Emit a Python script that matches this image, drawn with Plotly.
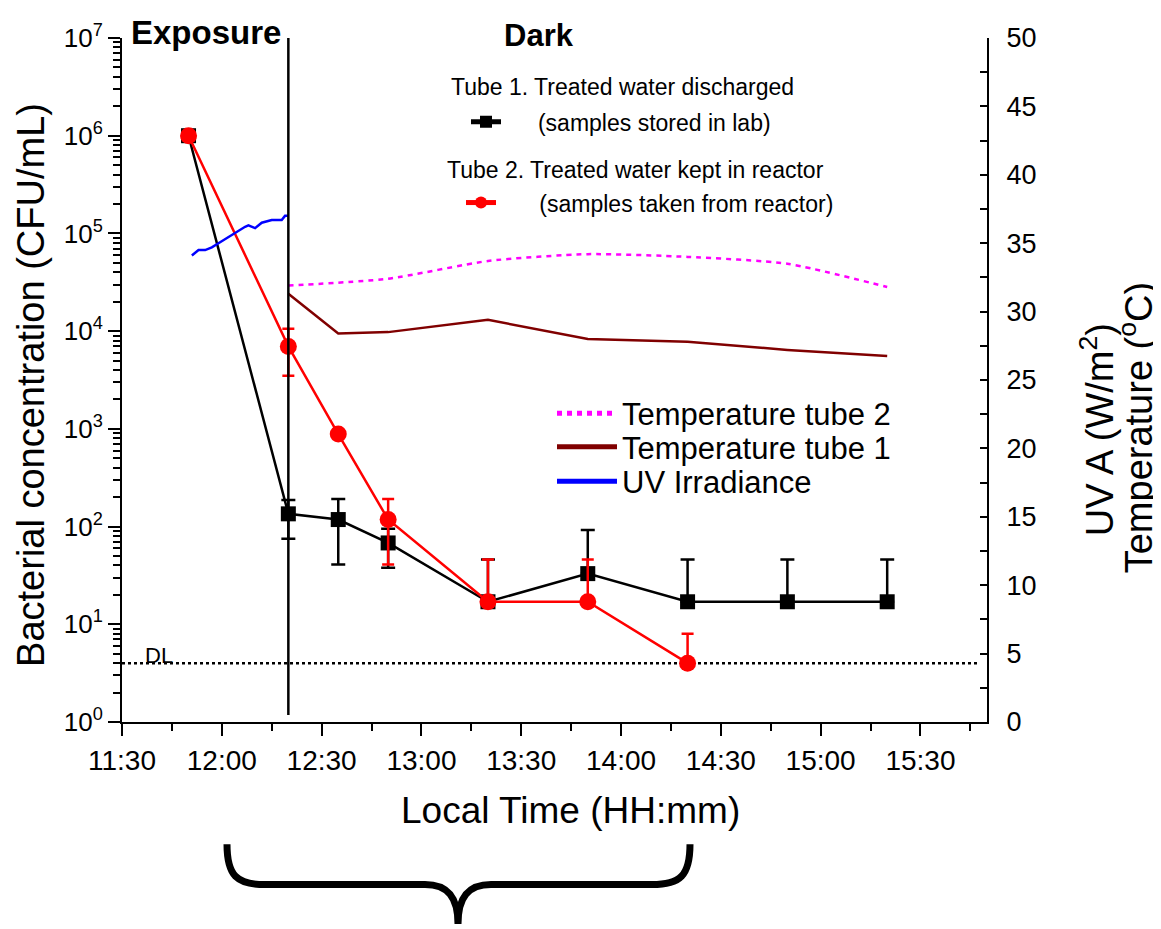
import plotly.graph_objects as go

# ---------------- data ----------------
DAY = "2014-06-10 "
sample_times = ["11:50", "12:20", "12:35", "12:50", "13:20", "13:50", "14:20", "14:50", "15:20"]
tube1_cfu = [1.0e6, 135, 118, 68, 17, 33, 17, 17, 17]
tube1_err_plus = [0, 52, 74, 27, 29, 59, 29, 29, 29]
tube1_err_minus = [0, 60, 77, 30, 0, 0, 0, 0, 0]

tube2_times = ["11:50", "12:20", "12:35", "12:50", "13:20", "13:50", "14:20"]
tube2_cfu = [1.0e6, 6980, 885, 118, 17, 17, 4.0]
tube2_err_plus = [0, 3620, 0, 74, 29, 29, 4.0]
tube2_err_minus = [0, 3480, 0, 77, 0, 0, 0]

temp1_times = ["12:20", "12:35", "12:50", "13:20", "13:50", "14:20", "14:50", "15:20"]
temp_tube1 = [31.3, 28.4, 28.5, 29.4, 28.0, 27.8, 27.2, 26.75]
temp2_times = ["12:20", "12:50", "13:20", "13:50", "14:20", "14:50", "15:20"]
temp_tube2 = [31.9, 32.4, 33.7, 34.2, 34.0, 33.5, 31.8]

uv_times = ["11:51", "11:53", "11:55", "11:57", "11:59", "12:01", "12:04", "12:07",
            "12:08", "12:10", "12:12", "12:15", "12:18", "12:19", "12:20"]
uv_values = [34.1, 34.5, 34.5, 34.7, 35.0, 35.3, 35.8, 36.2, 36.3, 36.1, 36.5, 36.7, 36.7, 37.0, 37.0]

detection_limit = 4.0
dl_span = ["11:30", "15:47"]
dark_start = "12:20"
x_range = ["11:30", "15:50"]
y_exponents = list(range(0, 8))
right_range = [0, 50]

# ---------------- helpers ----------------
FONT = "Arial, Liberation Sans, sans-serif"
OFF = 8                       # page body margin
PL, PR, PT, PB = 122, 987, 28, 722   # plot area in page pixels
W, H = 1161 - OFF, 929 - OFF


def t(s):
    return DAY + s


def ts(lst):
    return [t(s) for s in lst]


def px(xp):
    return (xp - PL) / (PR - PL)


def py(yp):
    return (PB - yp) / (PB - PT)


NB = "\u00a0"

fig = go.Figure()

# right-axis series
fig.add_trace(go.Scatter(
    x=ts(temp2_times), y=temp_tube2, yaxis="y2", mode="lines",
    line=dict(color="#FF00FF", width=2.5, dash="5px,5px", shape="spline", smoothing=0.6),
    name="Temperature tube 2", legend="legend3"))
fig.add_trace(go.Scatter(
    x=ts(temp1_times), y=temp_tube1, yaxis="y2", mode="lines",
    line=dict(color="#800000", width=2.5),
    name="Temperature tube 1", legend="legend4"))
fig.add_trace(go.Scatter(
    x=ts(uv_times), y=uv_values, yaxis="y2", mode="lines",
    line=dict(color="#0000FF", width=2.5),
    name="UV Irradiance", legend="legend5"))

# detection limit
fig.add_trace(go.Scatter(
    x=ts(dl_span), y=[detection_limit, detection_limit], mode="lines",
    line=dict(color="black", width=2.5, dash="dot"), showlegend=False, hoverinfo="skip"))

# bacterial series
fig.add_trace(go.Scatter(
    x=ts(sample_times), y=tube1_cfu, mode="lines+markers",
    line=dict(color="black", width=2.5),
    marker=dict(symbol="square", size=15, color="black"),
    error_y=dict(type="data", symmetric=False, array=tube1_err_plus, arrayminus=tube1_err_minus,
                 color="black", thickness=2.5, width=7),
    name=NB * 5 + "(samples stored in lab)", legend="legend"))
fig.add_trace(go.Scatter(
    x=ts(tube2_times), y=tube2_cfu, mode="lines+markers",
    line=dict(color="#FF0000", width=2.5),
    marker=dict(symbol="circle", size=17, color="#FF0000"),
    error_y=dict(type="data", symmetric=False, array=tube2_err_plus, arrayminus=tube2_err_minus,
                 color="#FF0000", thickness=2.5, width=6),
    name=NB * 6 + "(samples taken from reactor)", legend="legend2"))

# vertical exposure/dark separator
fig.add_shape(type="line", xref="x", yref="paper", x0=t(dark_start), x1=t(dark_start),
              y0=py(715), y1=1.0, line=dict(color="black", width=2.5))


# curly brace under x-axis title
def P(xp, yp):
    return f"{px(xp):.5f},{py(yp):.5f}"


brace = (f"M {P(227,846)} C {P(227,878)} {P(237,887)} {P(265,887)} L {P(425,887)} "
         f"C {P(448,887)} {P(458,900)} {P(458,927)} C {P(458,900)} {P(468,887)} {P(491,887)} "
         f"L {P(652,887)} C {P(680,887)} {P(690,878)} {P(690,846)}")
fig.add_shape(type="path", xref="paper", yref="paper", path=brace,
              line=dict(color="black", width=7))

annotations = [
    dict(text="<b>Exposure</b>", x=px(206), y=py(22), font=dict(size=33)),
    dict(text="<b>Dark</b>", x=px(539), y=py(25), font=dict(size=31)),
    dict(text="Tube 1. Treated water discharged", x=px(449), y=py(78), xanchor="left",
         font=dict(size=23)),
    dict(text="Tube 2. Treated water kept in reactor", x=px(445), y=py(162), xanchor="left",
         font=dict(size=23)),
    dict(text="DL", x=px(159), y=py(655), font=dict(size=22)),
    dict(text="Bacterial concentration (CFU/mL)", x=px(31), y=py(380), textangle=-90,
         font=dict(size=38)),
    dict(text="UV A (W/m<sup>2</sup>)", x=px(1097), y=py(426), textangle=-90,
         font=dict(size=38)),
    dict(text="Temperature (<sup>o</sup>C)", x=px(1136), y=py(424), textangle=-90,
         font=dict(size=38)),
    dict(text="Local Time (HH:mm)", x=px(570), y=py(812), font=dict(size=37)),
]
for a in annotations:
    a.setdefault("xanchor", "center")
    a.setdefault("yanchor", "middle")
    a.update(xref="paper", yref="paper", showarrow=False)
    a["font"].update(family=FONT, color="black")

minor_log = [k * 10 ** e for e in range(0, 7) for k in range(2, 10)]


def leg(xp, yp, size, iw=30):
    return dict(x=px(xp), y=py(yp), xanchor="left", yanchor="middle",
                font=dict(family=FONT, size=size, color="black"),
                bgcolor="rgba(0,0,0,0)", borderwidth=0, itemsizing="constant",
                itemwidth=iw)


fig.update_layout(
    width=W, height=H,
    margin=dict(l=PL - OFF, r=W - (PR - OFF), t=PT - OFF, b=H - (PB - OFF)),
    paper_bgcolor="white", plot_bgcolor="white",
    font=dict(family=FONT, color="black"),
    annotations=annotations,
    legend=leg(466, 113, 23),
    legend2=leg(461, 195, 23),
    legend3=leg(552, 409, 31, 60),
    legend4=leg(552, 443, 31, 60),
    legend5=leg(552, 478, 31, 60),
    xaxis=dict(
        type="date", range=ts(x_range), tickformat="%H:%M",
        tick0=t("11:30"), dtick=1800000,
        showline=True, linecolor="black", linewidth=2, mirror=False,
        ticks="outside", ticklen=12, tickwidth=2, tickcolor="black",
        minor=dict(dtick=900000, ticks="outside", ticklen=7, tickwidth=2, tickcolor="black"),
        tickfont=dict(family=FONT, size=28, color="black"),
        showgrid=False, zeroline=False,
    ),
    yaxis=dict(
        type="log", range=[0, 7],
        tickmode="array", tickvals=[10 ** e for e in y_exponents],
        ticktext=[f"10<sup>{e}</sup>" for e in y_exponents],
        showline=True, linecolor="black", linewidth=2,
        ticks="outside", ticklen=12, tickwidth=2, tickcolor="black",
        minor=dict(tickmode="array", tickvals=minor_log, ticks="outside", ticklen=7,
                   tickwidth=2, tickcolor="black"),
        tickfont=dict(family=FONT, size=26, color="black"),
        showgrid=False, zeroline=False,
    ),
    yaxis2=dict(
        overlaying="y", side="right", range=right_range,
        tickmode="linear", tick0=0, dtick=5,
        showline=True, linecolor="black", linewidth=2,
        ticks="inside", ticklen=7, tickwidth=2, tickcolor="black",
        minor=dict(dtick=2.5, ticks="inside", ticklen=7, tickwidth=2, tickcolor="black"),
        tickfont=dict(family=FONT, size=27, color="black"),
        ticklabelstandoff=12,
        showgrid=False, zeroline=False,
    ),
)

fig.write_html("out.html")
